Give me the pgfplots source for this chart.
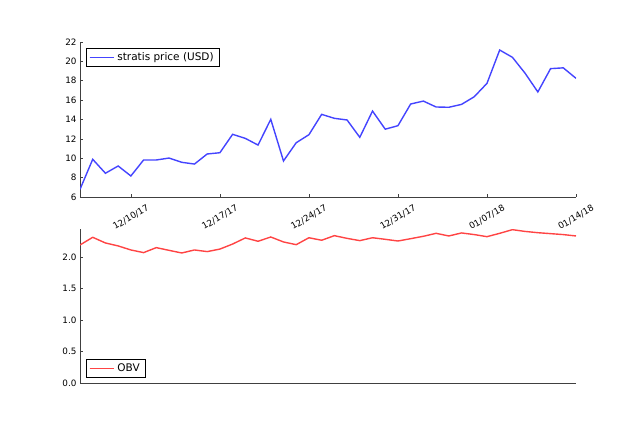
\documentclass[border=0pt]{standalone}
\usepackage{fontspec}
\setmainfont{DejaVu Sans}
\usepackage{pgfplots}
\pgfplotsset{compat=1.18}
\definecolor{plotblue}{RGB}{68,68,255}
\definecolor{plotred}{RGB}{255,68,68}
\begin{document}
\begin{tikzpicture}
\useasboundingbox (0,0) rectangle (640pt,427pt);
\pgfplotsset{
  common/.style={
    scale only axis, width=496pt, xmin=0, xmax=39,
    axis x line*=bottom, axis y line*=left,
    axis line style={black!75, line width=0.8pt},
    every tick/.style={black!75, line width=0.6pt},
    major tick length=3pt,
    tick align=inside,
    /pgf/number format/assume math mode=true,
    tick label style={font=\fontsize{8.8}{10}\selectfont},
    legend style={draw=black, line width=0.6pt, font=\fontsize{10.5}{12}\selectfont,
      inner xsep=3pt, inner ysep=2.5pt, nodes={inner xsep=3pt, inner ysep=1.8pt},
      legend cell align=left},
  }
}
\begin{axis}[common, at={(80pt,230pt)}, anchor=south west, height=155pt,
  ymin=6, ymax=22, ytick={6,8,...,22},
  xtick={4,11,18,25,32,39},
  xticklabels={12/10/17,12/17/17,12/24/17,12/31/17,01/07/18,01/14/18},
  xticklabel style={yshift=-20.5pt, rotate=30, anchor=center},
  legend style={at={(axis description cs:0,1)}, anchor=north west, xshift=5.7pt, yshift=-6pt},
  legend image code/.code={\draw[draw=plotblue, line width=1.1pt] (0pt,0pt) -- (20pt,0pt); \path (0pt,0pt) -- (24pt,0pt);},
]
\addplot[plotblue, line width=1.4pt] coordinates {
(0,6.79)(1,9.89)(2,8.45)(3,9.2)(4,8.17)(5,9.82)(6,9.82)(7,10.02)(8,9.58)(9,9.4)
(10,10.44)(11,10.57)(12,12.47)(13,12.05)(14,11.36)(15,14.02)(16,9.72)(17,11.6)(18,12.43)(19,14.53)
(20,14.12)(21,13.95)(22,12.16)(23,14.87)(24,13.0)(25,13.36)(26,15.6)(27,15.9)(28,15.29)(29,15.26)
(30,15.56)(31,16.35)(32,17.73)(33,21.17)(34,20.42)(35,18.77)(36,16.84)(37,19.25)(38,19.33)(39,18.25)
};
\legend{stratis price (USD)}
\end{axis}
\begin{axis}[common, at={(80pt,43.7pt)}, anchor=south west, height=154pt,
  ymin=0, ymax=2.444, ytick={0,0.5,1,1.5,2},
  yticklabel style={/pgf/number format/.cd, fixed, fixed zerofill, precision=1},
  xtick=\empty,
  legend style={at={(axis description cs:0,0)}, anchor=south west, xshift=5.7pt, yshift=5.5pt},
  legend image code/.code={\draw[draw=plotred, line width=1.1pt] (0pt,0pt) -- (20pt,0pt); \path (0pt,0pt) -- (24pt,0pt);},
]
\addplot[plotred, line width=1.4pt] coordinates {
(0,2.195)(1,2.317)(2,2.227)(3,2.18)(4,2.116)(5,2.074)(6,2.153)(7,2.11)(8,2.068)(9,2.116)
(10,2.09)(11,2.13)(12,2.21)(13,2.307)(14,2.254)(15,2.322)(16,2.243)(17,2.2)(18,2.31)(19,2.27)
(20,2.343)(21,2.30)(22,2.264)(23,2.31)(24,2.285)(25,2.258)(26,2.295)(27,2.333)(28,2.38)(29,2.338)
(30,2.386)(31,2.36)(32,2.327)(33,2.38)(34,2.438)(35,2.41)(36,2.39)(37,2.375)(38,2.36)(39,2.338)
};
\legend{OBV}
\node[anchor=south west, inner sep=0pt, font=\fontsize{8.8}{10}\selectfont] at (axis description cs:0,1) [yshift=2pt] {1e8};
\end{axis}
\end{tikzpicture}
\end{document}
